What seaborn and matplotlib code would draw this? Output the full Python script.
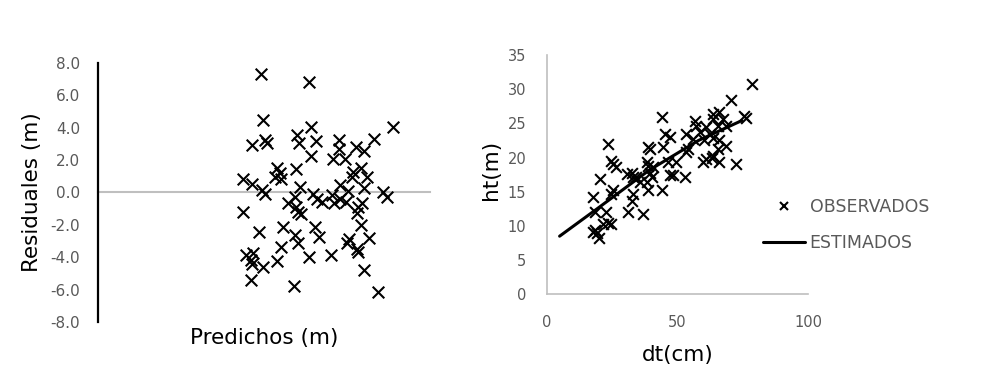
import matplotlib
matplotlib.use("Agg")
import matplotlib.pyplot as plt
import seaborn as sns
import pandas as pd
from matplotlib.lines import Line2D

# Left panel: residuals vs predicted (predicted axis has no labels)
predichos = [17.15, 22.28, 17.36, 22.42, 31.07, 16.20, 17.61, 17.78, 20.95, 21.19,
             22.98, 22.42, 25.37, 25.37, 27.20, 28.04, 29.10, 24.81, 26.04, 18.84,
             19.19, 18.66, 19.26, 20.87, 26.91, 27.69, 26.75, 28.39, 15.32, 16.20,
             17.26, 17.61, 21.29, 20.77, 25.51, 26.39, 28.04, 30.01, 30.43, 22.63,
             23.12, 23.58, 24.64, 24.88, 25.51, 26.14, 27.80, 27.44, 27.27, 20.06,
             20.87, 21.12, 21.37, 15.32, 27.69, 16.97, 19.47, 22.88, 23.33, 20.77,
             21.05, 19.26, 18.90, 22.28, 24.53, 26.22, 26.49, 27.27, 27.44, 28.60,
             15.60, 16.37, 16.10, 16.20, 17.36, 28.04, 16.10, 20.66, 29.55]
residuales = [7.34, 6.80, 4.49, 4.07, 4.07, 2.94, 3.25, 3.05, 3.56, 3.05,
              3.21, 2.26, 3.25, 2.67, 2.80, 2.59, 3.31, 2.06, 2.06, 1.50,
              1.19, 0.94, 0.82, 1.44, 1.29, 1.50, 0.98, 0.94, 0.82, 0.53,
              0.15, -0.09, 0.36, -0.26, 0.46, 0.11, 0.26, 0.05, -0.26, -0.09,
              -0.42, -0.57, -0.15, -0.67, -0.42, -0.57, -0.63, -0.88, -1.29, -0.63,
              -0.88, -1.19, -1.33, -1.19, -2.01, -2.43, -2.12, -2.15, -2.74, -2.63,
              -3.15, -3.39, -4.22, -4.01, -3.87, -3.11, -2.90, -3.46, -3.67, -2.84,
              -3.87, -3.73, -4.14, -4.43, -4.63, -4.80, -5.42, -5.75, -6.14]

# Right panel: observed heights vs diameter
dt_obs = [78.6, 70.4, 75.5, 76.2, 66.0, 63.5, 63.5, 67.2, 68.6, 65.3,
          56.5, 56.9, 61.0, 62.3, 58.4, 53.4, 55.9, 60.3, 63.5, 66.0,
          68.6, 65.3, 63.5, 66.0, 72.4, 59.7, 61.0, 63.0, 54.0, 53.4,
          43.9, 45.1, 47.3, 44.5, 46.4, 49.5, 47.0, 48.3, 52.8, 43.9,
          38.7, 39.5, 38.2, 38.7, 40.6, 39.5, 40.1, 38.2, 38.7, 36.8,
          23.5, 24.8, 25.4, 26.7, 30.6, 32.5, 33.1, 34.3, 35.6, 33.1,
          32.5, 31.2, 25.4, 24.8, 20.4, 17.9, 18.5, 22.9, 23.5, 24.8,
          21.6, 18.5, 19.4, 20.1, 17.9]
ht_obs = [30.7, 28.4, 26.1, 25.8, 26.6, 26.4, 25.6, 25.6, 24.6, 24.6,
          25.4, 24.6, 24.4, 23.4, 23.7, 23.4, 22.7, 22.5, 22.9, 22.5,
          21.7, 21.2, 20.3, 19.3, 19.1, 19.3, 19.8, 20.0, 21.2, 20.8,
          26.0, 23.5, 23.0, 21.5, 19.4, 19.4, 17.4, 17.4, 17.1, 15.2,
          21.6, 21.2, 19.3, 18.7, 18.6, 17.8, 17.1, 16.4, 15.2, 11.8,
          22.0, 19.5, 19.1, 18.6, 17.6, 17.8, 17.1, 17.1, 16.4, 14.7,
          13.7, 12.0, 15.2, 14.7, 16.9, 14.2, 12.0, 12.0, 10.5, 10.3,
          10.3, 9.4, 8.9, 8.3, 9.1]

# Fitted curve (ESTIMADOS)
dt_est = [5.0, 20.0, 39.0, 58.0, 74.5]
ht_est = [8.5, 12.7, 18.1, 22.5, 25.4]

left_yticks = [-8, -6, -4, -2, 0, 2, 4, 6, 8]
right_yticks = [0, 5, 10, 15, 20, 25, 30, 35]
right_xticks = [0, 50, 100]

sns.set_theme(style="white")
plt.rcParams['font.family'] = ['DejaVu Sans']

tick_gray = '#595959'
axis_gray = '#BFBFBF'

fig = plt.figure(figsize=(9.92, 3.82), dpi=100)
ax1 = fig.add_axes([98 / 992, 1 - 322 / 382, 332 / 992, 259 / 382])
ax2 = fig.add_axes([546.5 / 992, 1 - 294.3 / 382, 262 / 992, 239.3 / 382])

# ---- left: residuals
df_res = pd.DataFrame({'pred': predichos, 'res': residuales})
sns.scatterplot(data=df_res, x='pred', y='res', ax=ax1, marker='x',
                color='black', s=70, linewidth=1.5)
ax1.set_xlim(0, 35)
ax1.set_ylim(-8, 8)
ax1.set_yticks(left_yticks)
ax1.set_yticklabels([f"{v:.1f}" for v in left_yticks])
ax1.set_xticks([])
for side in ['top', 'right']:
    ax1.spines[side].set_visible(False)
ax1.spines['left'].set_color('black')
ax1.spines['left'].set_linewidth(1.6)
ax1.spines['bottom'].set_position(('data', 0))
ax1.spines['bottom'].set_color(axis_gray)
ax1.spines['bottom'].set_linewidth(1.5)
ax1.spines['bottom'].set_zorder(0)
ax1.tick_params(axis='y', length=0, pad=13, labelsize=11, labelcolor=tick_gray)
ax1.set_xlabel('Predichos (m)', fontsize=15.5, color='black')
ax1.xaxis.set_label_coords(0.5, -0.025)
ax1.set_ylabel('Residuales (m)', fontsize=15.5, color='black')
ax1.yaxis.set_label_coords(-0.17, 0.5)

# ---- right: observed vs estimated
df_obs = pd.DataFrame({'dt': dt_obs, 'ht': ht_obs})
df_est = pd.DataFrame({'dt': dt_est, 'ht': ht_est})
sns.scatterplot(data=df_obs, x='dt', y='ht', ax=ax2, marker='x',
                color='black', s=60, linewidth=1.5)
sns.lineplot(data=df_est, x='dt', y='ht', ax=ax2, color='black',
             linewidth=2.2, errorbar=None)
ax2.set_xlim(0, 100)
ax2.set_ylim(0, 35)
ax2.set_xticks(right_xticks)
ax2.set_yticks(right_yticks)
for side in ['top', 'right']:
    ax2.spines[side].set_visible(False)
for side in ['left', 'bottom']:
    ax2.spines[side].set_color(axis_gray)
    ax2.spines[side].set_linewidth(1.2)
ax2.tick_params(axis='both', length=0, labelsize=10.5, labelcolor=tick_gray)
ax2.tick_params(axis='y', pad=14.5)
ax2.tick_params(axis='x', pad=15)
ax2.set_xlabel('dt(cm)', fontsize=15.5, color='black')
ax2.xaxis.set_label_coords(0.5, -0.21)
ax2.set_ylabel('ht(m)', fontsize=15.5, color='black')
ax2.yaxis.set_label_coords(-0.175, 0.52)

handles = [
    Line2D([], [], marker='x', linestyle='none', color='black', markersize=6, markeredgewidth=1.5),
    Line2D([], [], color='black', linewidth=2.2),
]
leg = ax2.legend(handles, ['OBSERVADOS', 'ESTIMADOS'], loc='upper left',
                 bbox_to_anchor=(763 / 992, 1 - 198 / 382), bbox_transform=fig.transFigure,
                 frameon=False, fontsize=12.5, handlelength=2.4, handletextpad=0.29,
                 labelspacing=1.05, borderpad=0, borderaxespad=0)
for t in leg.get_texts():
    t.set_color(tick_gray)

fig.savefig('out.png', dpi=100)
